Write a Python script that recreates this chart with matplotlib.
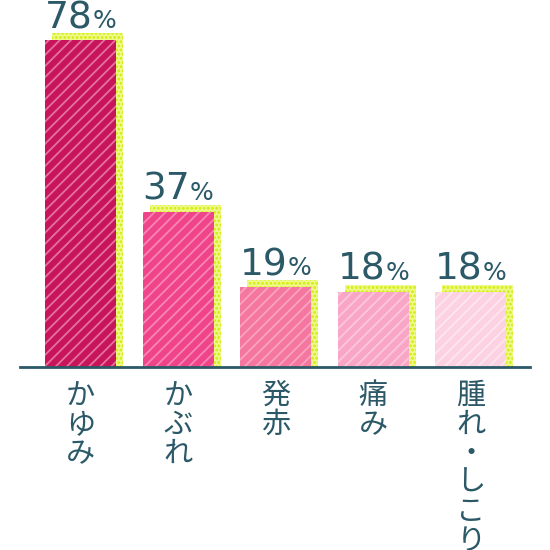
import matplotlib
matplotlib.use('Agg')
import matplotlib.pyplot as plt
import matplotlib.transforms as mtransforms

categories = ['かゆみ', 'かぶれ', '発赤', '痛み', '腫れ・しこり']
values = [78, 37, 19, 18, 18]
bar_colors = ['#c8145a', '#f0448a', '#f5769f', '#f9a6c6', '#fcd2e2']
stripe_colors = ['#e2739d', '#f786b5', '#f9a3c3', '#fcc6db', '#fee6ef']
text_color = '#2b5968'

plt.rcParams['font.family'] = ['Noto Sans CJK JP', 'DejaVu Sans']
plt.rcParams['hatch.linewidth'] = 1.3

W, H = 550, 550
fig = plt.figure(figsize=(W / 100, H / 100), dpi=100)

# axes set in pixels: baseline at y=367 from the top, line from x=20 to 530
base_px = 367
px_per_pct = 4.19
px_per_cat = 97.6
x0_px = 80.5
ax = fig.add_axes([20 / W, (H - base_px) / H, 510 / W, base_px / H])
ax.set_xlim((20 - x0_px) / px_per_cat, (530 - x0_px) / px_per_cat)
ax.set_ylim(0, base_px / px_per_pct)

xs = list(range(len(values)))
bw = 71 / px_per_cat

# yellow dotted shadow, shifted 7 px right and 7 px up
shift = mtransforms.ScaledTranslation(7 / 100, 0, fig.dpi_scale_trans)
sh = ax.bar(xs, [v + 7 / px_per_pct for v in values], width=bw,
            color='#eef98c', edgecolor='#d2ec00', linewidth=0,
            hatch='....', zorder=1)
for p in sh:
    p.set_transform(ax.transData + shift)

bars = ax.bar(xs, values, width=bw, color=bar_colors, linewidth=0, zorder=2)
for p, sc in zip(bars, stripe_colors):
    p.set_edgecolor(sc)
    p.set_hatch('///')
    p.set_linewidth(0)

for s in ['top', 'right', 'left']:
    ax.spines[s].set_visible(False)
ax.spines['bottom'].set_color(text_color)
ax.spines['bottom'].set_linewidth(2)
ax.spines['bottom'].set_zorder(3)
ax.set_xticks([])
ax.set_yticks([])
ax.patch.set_alpha(0)

# value labels: big number + small percent sign
labels = []
for x, v in zip(xs, values):
    t1 = ax.annotate(str(v), xy=(x, v), xytext=(0, 12), textcoords='offset pixels',
                     ha='left', va='baseline', fontsize=27, color=text_color,
                     family=['DejaVu Sans'], annotation_clip=False)
    t2 = ax.annotate('%', xy=(x, v), xytext=(0, 12), textcoords='offset pixels',
                     ha='left', va='baseline', fontsize=18, color=text_color,
                     family=['DejaVu Sans'], annotation_clip=False)
    labels.append((t1, t2))

# category labels, written vertically one character at a time
for x, cat in zip(xs, categories):
    for k, ch in enumerate(cat):
        ax.annotate(ch, xy=(x, 0), xytext=(0, -14 - 29 * k), textcoords='offset pixels',
                    ha='center', va='top', fontsize=21, color=text_color,
                    annotation_clip=False)

fig.canvas.draw()
r = fig.canvas.get_renderer()
for t1, t2 in labels:
    w1 = t1.get_window_extent(r).width
    w2 = t2.get_window_extent(r).width
    start = -(w1 + w2) / 2
    t1.set_position((start, 12))
    t2.set_position((start + w1, 12))

fig.savefig('out.png', dpi=100)
